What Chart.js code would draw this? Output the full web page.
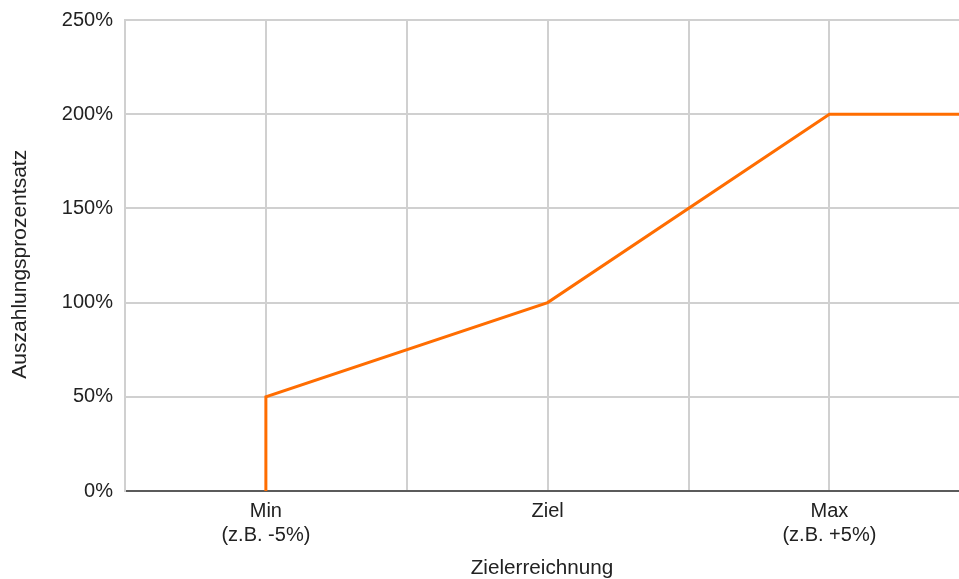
<!DOCTYPE html>
<html>
<head>
<meta charset="utf-8">
<script src="https://cdn.jsdelivr.net/npm/chart.js@4"></script>
<style>
  body { margin: 0; background: #fff; }
</style>
</head>
<body>
<canvas id="chart" width="959" height="579"></canvas>
<script>
// Zielerreichung in % (Min = -5, Ziel = 0, Max = +5) and the payout rate
const xValues = [-5, -5, 0, 5, 7.3];
const yValues = [0, 50, 100, 200, 200];

// Vertical grid lines and which of them carry a label
const gridPositions = [-7.5, -5, -2.5, 0, 2.5, 5];
const labelPositions = [-5, 0, 5];
const labelTexts = [["Min", "(z.B. -5%)"], ["Ziel"], ["Max", "(z.B. +5%)"]];

const fontFamily = "'Liberation Sans', Arial, sans-serif";

const points = xValues.map((x, i) => ({ x: x, y: yValues[i] }));

new Chart(document.getElementById("chart"), {
  type: "line",
  data: {
    datasets: [
      {
        data: points,
        borderColor: "#ff6d01",
        borderWidth: 3,
        pointRadius: 0,
        tension: 0,
        fill: false,
      },
    ],
  },
  options: {
    responsive: false,
    animation: false,
    layout: { padding: 0 },
    plugins: {
      legend: { display: false },
      tooltip: { enabled: false },
    },
    scales: {
      x: {
        type: "linear",
        min: -7.5,
        max: 7.3,
        afterBuildTicks: (axis) => {
          axis.ticks = gridPositions.map((v) => ({ value: v }));
        },
        afterFit: (axis) => { axis.height = 88; },
        grid: { color: "#d0d0d0", lineWidth: 2, drawTicks: false },
        border: { color: "#5b5b5b", width: 2 },
        ticks: {
          color: "#222",
          padding: 8,
          maxRotation: 0,
          autoSkip: false,
          font: { family: fontFamily, size: 20, lineHeight: 1.2 },
          callback: (value) => {
            const idx = labelPositions.indexOf(value);
            return idx >= 0 ? labelTexts[idx] : "";
          },
        },
        title: {
          display: true,
          text: "Zielerreichnung",
          color: "#222",
          padding: { top: 0, bottom: 0 },
          font: { family: fontFamily, size: 20.7, lineHeight: 1.0 },
        },
      },
      y: {
        min: 0,
        max: 250,
        afterFit: (axis) => {
          axis.width = 125;
          axis.paddingTop = 20;
        },
        grid: { color: "#d0d0d0", lineWidth: 2, drawTicks: false },
        border: { color: "#d0d0d0", width: 2 },
        ticks: {
          stepSize: 50,
          color: "#222",
          padding: 12,
          font: { family: fontFamily, size: 20 },
          callback: (value) => value + "%",
        },
        title: {
          display: true,
          text: "Auszahlungsprozentsatz   ",
          color: "#222",
          padding: { top: 8, bottom: 0 },
          font: { family: fontFamily, size: 21 },
        },
      },
    },
  },
});
</script>
</body>
</html>
